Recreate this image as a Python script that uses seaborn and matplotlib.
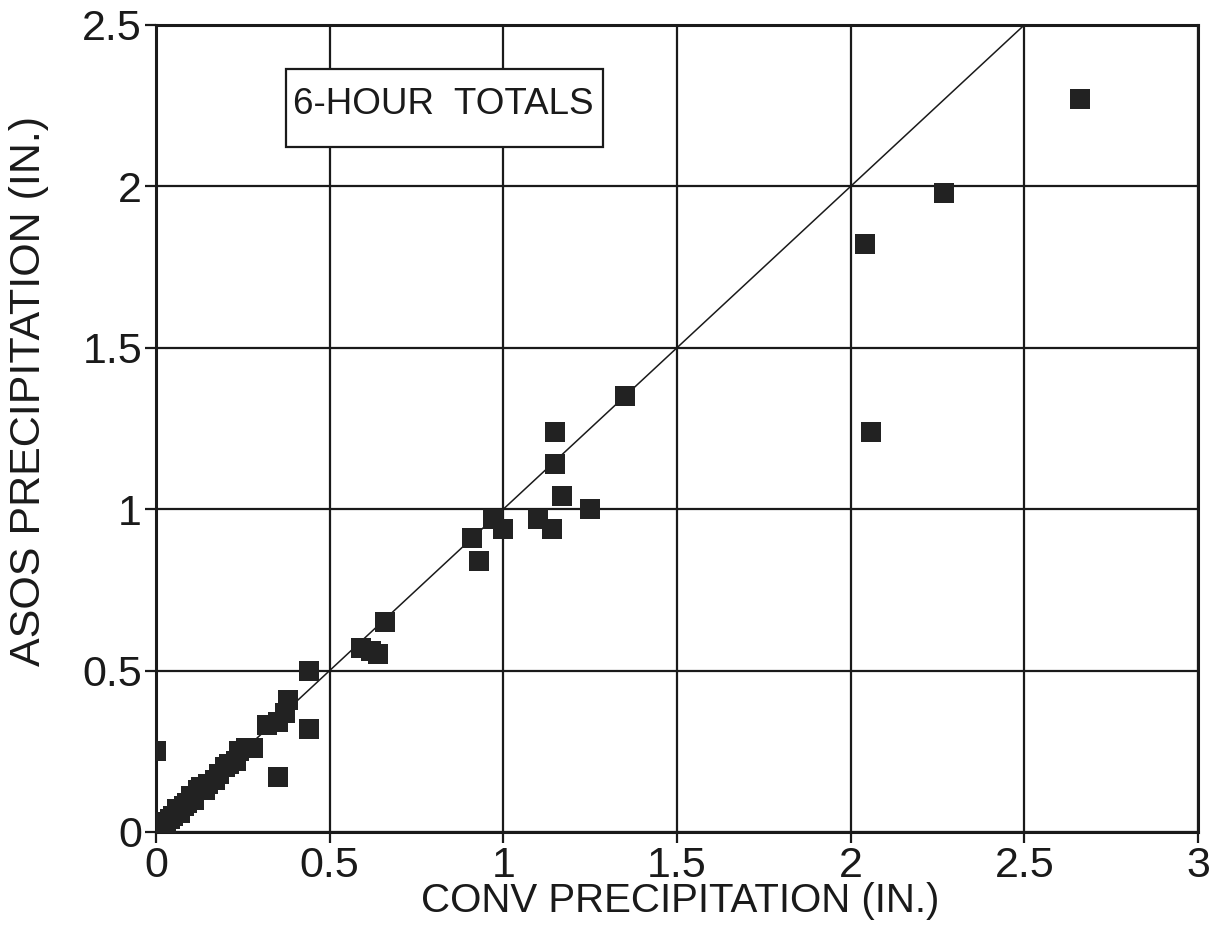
import matplotlib
matplotlib.use("Agg")
import matplotlib.pyplot as plt
from matplotlib.patches import Rectangle
import seaborn as sns
import pandas as pd

conv = [0.0, 0.0, 0.01, 0.02, 0.02, 0.03, 0.04, 0.05, 0.06, 0.07, 0.08, 0.09,
        0.10, 0.11, 0.12, 0.13, 0.14, 0.15, 0.17, 0.18, 0.20, 0.21, 0.23, 0.24,
        0.26, 0.28, 0.32, 0.35, 0.37, 0.38, 0.35, 0.44, 0.44, 0.0,
        0.59, 0.62, 0.64, 0.66, 0.91, 0.93, 0.97, 1.00, 1.10, 1.14, 1.15, 1.15,
        1.17, 1.25, 1.35, 2.04, 2.06, 2.27, 2.66]
asos = [0.0, 0.01, 0.02, 0.01, 0.03, 0.02, 0.04, 0.05, 0.07, 0.06, 0.08, 0.09,
        0.11, 0.10, 0.13, 0.14, 0.13, 0.15, 0.16, 0.18, 0.20, 0.21, 0.22, 0.25,
        0.26, 0.26, 0.33, 0.34, 0.37, 0.41, 0.17, 0.32, 0.50, 0.25,
        0.57, 0.56, 0.55, 0.65, 0.91, 0.84, 0.97, 0.94, 0.97, 0.94, 1.24, 1.14,
        1.04, 1.00, 1.35, 1.82, 1.24, 1.98, 2.27]

x_ticks = [0, 0.5, 1, 1.5, 2, 2.5, 3]
x_tick_labels = ["0", "0.5", "1", "1.5", "2", "2.5", "3"]
y_ticks = [0, 0.5, 1, 1.5, 2, 2.5]
y_tick_labels = ["0", "0.5", "1", "1.5", "2", "2.5"]

df = pd.DataFrame({"conv": conv, "asos": asos})

sns.set_style("white")
plt.rcParams['font.family'] = ['Liberation Sans', 'DejaVu Sans']

fig = plt.figure(figsize=(12.13, 9.42), dpi=100)
ax = fig.add_axes([0.1286, 0.1168, 0.8590, 0.8567])

ax.plot([0, 2.5], [0, 2.5], color="#1a1a1a", lw=1.1, zorder=2)
sns.scatterplot(data=df, x="conv", y="asos", marker="s", s=210, color="#222222",
                edgecolor="#222222", linewidth=0, ax=ax, zorder=3)

ax.set_xlim(0, 3)
ax.set_ylim(0, 2.5)
ax.set_xticks(x_ticks)
ax.set_xticklabels(x_tick_labels)
ax.set_yticks(y_ticks)
ax.set_yticklabels(y_tick_labels)
ax.grid(True, color="#1a1a1a", lw=1.6)
ax.set_axisbelow(True)
for s in ax.spines.values():
    s.set_color("#1a1a1a")
    s.set_linewidth(2.2)
ax.tick_params(axis="both", direction="out", length=8, width=1.6, color="#1a1a1a",
               labelsize=31, labelcolor="#1a1a1a", pad=2, bottom=True, left=True)
ax.set_xlabel("CONV PRECIPITATION (IN.)", fontsize=29, color="#1a1a1a")
ax.set_ylabel("ASOS PRECIPITATION (IN.)", fontsize=31, color="#1a1a1a")
ax.xaxis.set_label_coords(0.503, -0.062)
ax.yaxis.set_label_coords(-0.103, 0.546)

box = Rectangle((0.374, 2.121), 0.912, 0.244, facecolor="white", edgecolor="#1a1a1a",
                lw=1.6, zorder=4)
ax.add_patch(box)
ax.text(0.394, 2.254, "6-HOUR  TOTALS", fontsize=26.5, color="#1a1a1a",
        va="center", ha="left", zorder=5)

fig.savefig("out.png", dpi=100)
